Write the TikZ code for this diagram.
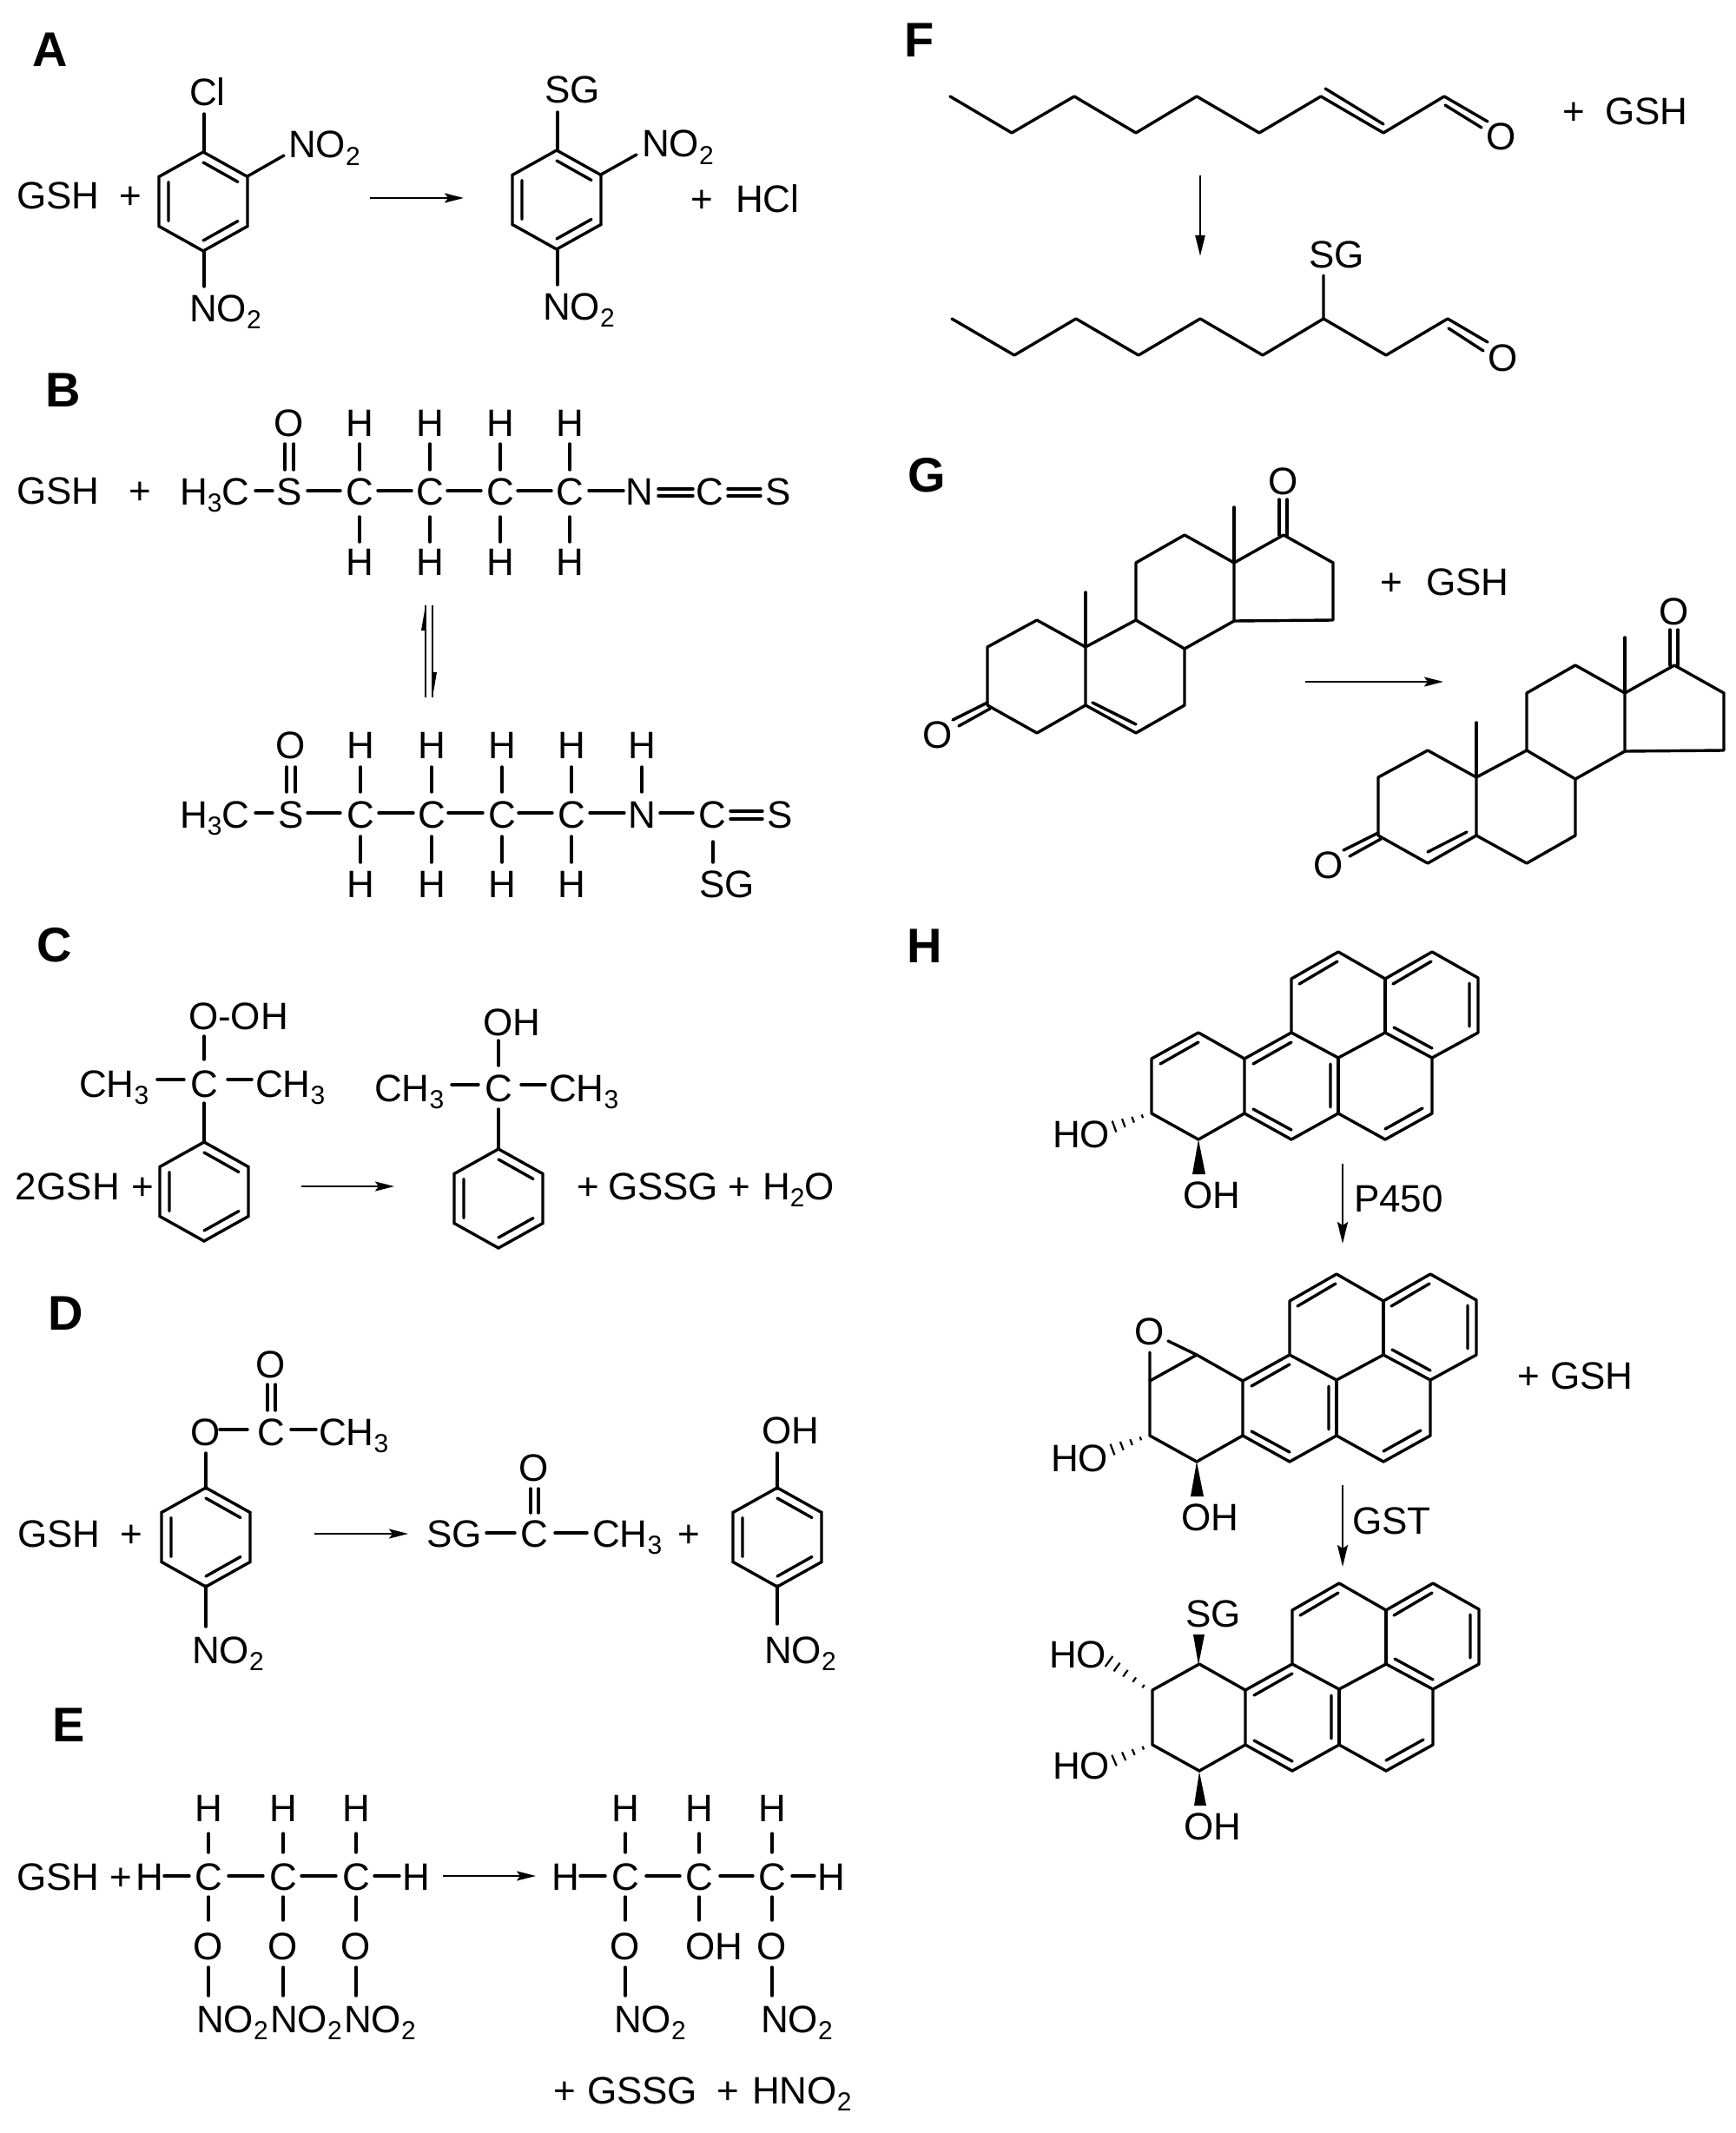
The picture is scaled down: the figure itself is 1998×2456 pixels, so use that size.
\documentclass[tikz,border=0pt]{standalone}
\usepackage{fontspec}
\setmainfont{Liberation Sans}
\usetikzlibrary{arrows.meta,calc}
\newcounter{lab}
\newcommand\dn[1]{\raisebox{-4.4pt}{\fontsize{15}{15}\selectfont #1}}
\newcommand\Lb[3]{\stepcounter{lab}\node[lbl] (lab\arabic{lab}) at (#1,#2) {#3};}
\newcommand\At[3]{\stepcounter{lab}\node[atm] (lab\arabic{lab}) at (#1,#2) {#3};}
\newcommand\PL[3]{\stepcounter{lab}\node[panel] (lab\arabic{lab}) at (#1,#2) {#3};}
\newcommand\Arr[6][rxn]{\coordinate (#2s) at (#3,#4);\coordinate (#2e) at (#5,#6);\draw[#1] (#2s) -- (#2e);}
\newcommand\Bd{\draw[bond]}
\newcommand\benz[2]{\begin{scope}[shift={(#1,#2)}]
 \draw[bond,line join=miter] (0,-57)--(51,-28.5)--(51,28.5)--(0,57)--(-51,28.5)--(-51,-28.5)--cycle;
 \draw[bond] (0,-45)--(40,-22.5) (-40,-22.5)--(-40,22.5) (40,22.5)--(0,45);
 \end{scope}}
\newcommand\hsh[5][0.1/1.0,0.4/1.8,0.7/2.6,1.0/3.4]{\coordinate (ha) at (#2,#3);\coordinate (hb) at (#4,#5);
 \foreach \t/\w in {#1}{\coordinate (hc) at ($(ha)!\t!(hb)$);
 \draw[line width=1.1pt] ($(hc)!\w pt!90:(ha)$) -- ($(hc)!\w pt!-90:(ha)$);}}
\newcommand\wdg[6]{\fill (#1,#2)--(#3,#4)--(#5,#6)--cycle;}
\newcommand\core[2]{\begin{scope}[shift={(#1,#2)}]
 \draw[bond] (1433,1219)--(1433,1282)--(1487,1312)--(1541,1282)--(1595,1312)--(1649,1282)--(1649,1218)--(1702,1189)--(1702,1126)--(1649,1096)--(1595,1127)--(1541,1096)--(1487,1127)--(1487,1189)--(1433,1219);
 \draw[bond] (1487,1189)--(1541,1218)--(1595,1189)--(1649,1218);
 \draw[bond] (1595,1189)--(1595,1127);
 \draw[bond] (1541,1218)--(1541,1282);
 \draw[bond] (1496,1133)--(1540,1107) (1604,1133)--(1648,1107) (1692,1132)--(1692,1182) (1649,1207)--(1605,1183)
   (1487,1200)--(1443,1225) (1532,1225)--(1532,1275) (1443,1277)--(1487,1301) (1595,1300)--(1638,1276);
 \end{scope}}
\newcommand\ster[2]{\begin{scope}[shift={(#1,#2)}]
 \draw[bond] (1137,812)--(1137,745)--(1194,714)--(1250,745)--(1250,812)--(1194,844)--cycle;
 \draw[bond] (1250,745)--(1308,714)--(1364,747)--(1364,812)--(1308,844)--(1250,812);
 \draw[bond] (1308,714)--(1308,648)--(1364,616)--(1421,648)--(1421,715)--(1364,747);
 \draw[bond] (1421,648)--(1478,616)--(1535,648)--(1535,714)--(1421,715);
 \draw[bond] (1250,745)--(1250,682) (1421,648)--(1421,584);
 \draw[bond] (1473,616)--(1473,575) (1482,616)--(1482,575);
 \draw[bond] (1137,809)--(1097,829) (1140,816)--(1104,836);
 \At{1478}{569}{O}
 \At{1080}{861}{O}
 \end{scope}}
\tikzset{bond/.style={line width=1.7pt,line cap=round,line join=round},
 rxn/.style={line width=1.15pt,-{Stealth[length=11pt,width=5.5pt,inset=2pt]}},
 lbl/.style={anchor=base west,inner sep=0pt,outer sep=0pt,xshift=-1.5pt,font=\fontsize{22}{22}\selectfont},
 atm/.style={anchor=base,inner sep=0pt,outer sep=0pt,font=\fontsize{22}{22}\selectfont},
 panel/.style={anchor=base west,inner sep=0pt,outer sep=0pt,font=\fontsize{28}{28}\bfseries\selectfont}}
\begin{document}
\begin{tikzpicture}[x=0.5pt,y=-0.5pt]
\useasboundingbox (0,0) rectangle (1998,2456);
\fill[white] (0,0) rectangle (1998,2456);
% panel letters
\PL{37}{77}{A}\PL{52}{468}{B}\PL{42}{1107}{C}\PL{55}{1531}{D}\PL{60}{2005}{E}
\PL{1041}{66}{F}\PL{1045}{566}{G}\PL{1044}{1108}{H}
% A
\Lb{22}{241}{GSH}\Lb{140}{241}{+}
\benz{234}{232}
\Bd (235,131)--(235,174); \Bd (285,203)--(327,179); \Bd (235,289)--(235,330);
\Lb{221}{122}{Cl}\Lb{335}{182}{NO\dn{2}}\Lb{221}{370}{NO\dn{2}}
\Arr{aA}{426}{228}{534}{228}
\benz{641}{230}
\Bd (642,129)--(642,173); \Bd (692,201)--(733,178); \Bd (642,287)--(642,328);
\Lb{630}{119}{SG}\Lb{742}{181}{NO\dn{2}}\Lb{628}{368}{NO\dn{2}}
\Lb{798}{244}{+}\Lb{850}{244}{HCl}
% B top
\Lb{22}{580}{GSH}\Lb{151}{580}{+}
\Lb{210}{581}{H\dn{3}C}\At{333}{581}{S}\At{333}{502}{O}
\Bd (294,565)--(314,565); \Bd (328,511)--(328,541) (338,511)--(338,541);
\Bd (354,565)--(392,565) (435,565)--(474,565) (515,565)--(554,565) (596,565)--(635,565) (678,565)--(718,565);
\foreach \x in {414,495,576,656}{\At{\x}{581}{C}\At{\x}{502}{H}\At{\x}{662}{H}
 \Bd (\x,511)--(\x,541) (\x,595)--(\x,624);}
\At{736}{581}{N}\At{817}{581}{C}\At{896}{581}{S}
\Bd (758,563)--(798,563) (758,571)--(798,571) (838,563)--(876,563) (838,571)--(876,571);
% equilibrium
\draw[line width=1pt] (490,803)--(490,697); \fill (490,697)--(485,726)--(490,726)--cycle;
\draw[line width=1pt] (498,697)--(498,803); \fill (498,803)--(503,774)--(498,774)--cycle;
% B bottom
\Lb{210}{953}{H\dn{3}C}\At{335}{953}{S}\At{335}{873}{O}
\Bd (294,936)--(314,936); \Bd (330,883)--(330,912) (340,883)--(340,912);
\Bd (354,936)--(392,936) (436,936)--(476,936) (516,936)--(556,936) (597,936)--(636,936) (679,936)--(719,936) (760,936)--(798,936);
\foreach \x in {415,497,578,658}{\At{\x}{953}{C}\At{\x}{873}{H}\At{\x}{1033}{H}
 \Bd (\x,883)--(\x,912) (\x,963)--(\x,993);}
\At{739}{953}{N}\At{739}{873}{H}\Bd (739,883)--(739,912);
\At{820}{953}{C}\At{898}{953}{S}
\Bd (841,934)--(878,934) (841,943)--(878,943); \Bd (821,969)--(821,993);
\Lb{808}{1033}{SG}
% C
\Lb{220}{1185}{O-OH}\At{235}{1263}{C}\Lb{94}{1263}{CH\dn{3}}\Lb{297}{1263}{CH\dn{3}}
\Bd (235,1193)--(235,1220) (181,1243)--(212,1243) (262,1243)--(290,1243) (235,1270)--(235,1315);
\benz{235}{1372}
\Lb{21}{1381}{2GSH}\Lb{154}{1381}{+}
\Arr{aC}{347}{1366}{454}{1366}
\Lb{559}{1192}{OH}\At{574}{1268}{C}\Lb{434}{1268}{CH\dn{3}}\Lb{635}{1268}{CH\dn{3}}
\Bd (574,1198)--(574,1227) (520,1249)--(551,1249) (600,1249)--(628,1249) (574,1277)--(574,1323);
\benz{574}{1380}
\Lb{667}{1381}{+}\Lb{703}{1381}{GSSG}\Lb{841}{1381}{+}\Lb{881}{1381}{H\dn{2}O}
% D
\At{237}{1664}{O}\At{312}{1664}{C}\Lb{370}{1664}{CH\dn{3}}\At{312}{1586}{O}
\Bd (308,1594)--(308,1624) (317,1594)--(317,1624) (253,1646)--(285,1646) (335,1646)--(364,1646) (237,1673)--(237,1714);
\benz{237}{1770}
\Bd (237,1826)--(237,1873);
\Lb{224}{1915}{NO\dn{2}}
\Lb{23}{1781}{GSH}\Lb{141}{1781}{+}
\Arr{aD}{362}{1766}{470}{1766}
\Lb{494}{1781}{SG}\At{615}{1781}{C}\At{615}{1705}{O}
\Bd (560,1765)--(593,1765) (611,1714)--(611,1742) (620,1714)--(620,1742) (639,1765)--(676,1765);
\Lb{685}{1781}{CH\dn{3}}\Lb{783}{1781}{+}
\benz{895}{1770}
\Lb{880}{1662}{OH}\Bd (895,1673)--(895,1714) (895,1826)--(895,1870);
\Lb{883}{1915}{NO\dn{2}}
% E
\Lb{22}{2176}{GSH}\Lb{129}{2176}{+}\At{172}{2176}{H}
\Bd (189,2160)--(218,2160) (263,2160)--(303,2160) (347,2160)--(387,2160) (431,2160)--(460,2160);
\foreach \x/\l in {240/229,326/314,410/399}{\At{\x}{2176}{C}\At{\x}{2097}{H}\At{\x}{2256}{O}\Lb{\l}{2340}{NO\dn{2}}
 \Bd (\x,2111)--(\x,2133) (\x,2184)--(\x,2211) (\x,2265)--(\x,2298);}
\At{479}{2176}{H}
\Arr{aE}{510}{2160}{617}{2160}
\At{651}{2176}{H}\At{957}{2176}{H}
\Bd (668,2160)--(697,2160) (744,2160)--(783,2160) (829,2160)--(867,2160) (912,2160)--(938,2160);
\foreach \x/\l in {720/710,889/879}{\At{\x}{2176}{C}\At{\x}{2097}{H}\At{\x}{2256}{O}\Lb{\l}{2340}{NO\dn{2}}
 \Bd (\x,2111)--(\x,2133) (\x,2184)--(\x,2211) (\x,2265)--(\x,2298);}
\At{805}{2176}{C}\At{805}{2097}{H}\Lb{792}{2256}{OH}\Bd (805,2111)--(805,2133) (805,2184)--(805,2211);
\Lb{640}{2422}{+}\Lb{679}{2422}{GSSG}\Lb{828}{2422}{+}\Lb{869}{2422}{HNO\dn{2}}
% F
\Bd (1094,111)--(1165,153)--(1237,111)--(1308,153)--(1378,111)--(1450,153)--(1521,111)--(1593,153)--(1663,111)--(1713,140);
\Bd (1526,102)--(1593,143) (1664,121)--(1706,147);
\At{1729}{173}{O}\Lb{1802}{144}{+}\Lb{1851}{144}{GSH}
\Arr[rxn,-{Stealth[length=12pt,width=5.5pt,inset=0pt]}]{aF}{1382}{202}{1382}{295}
\Bd (1096,367)--(1168,409)--(1239,367)--(1311,409)--(1382,367)--(1454,409)--(1524,367)--(1596,409)--(1667,367)--(1713,394);
\Bd (1668,378)--(1708,404) (1524,317)--(1524,367);
\Lb{1510}{308}{SG}\At{1731}{427}{O}
% G
\ster{0}{0}
\Bd (1258,809)--(1308,834);
\Lb{1592}{685}{+}\Lb{1645}{685}{GSH}
\Arr{aG}{1503}{785}{1662}{785}
\ster{450}{150}
\Bd (1644,981)--(1689,958);
% H mol 1
\core{0}{0}
\Bd (1433,1219)--(1380,1189)--(1326,1219)--(1326,1282)--(1380,1312)--(1433,1282);
\Bd (1380,1200)--(1336,1225);
\hsh{1319}{1284}{1283}{1297}
\wdg{1380}{1312}{1373}{1352}{1388}{1352}
\Lb{1215}{1321}{HO}\Lb{1365}{1391}{OH}
\Arr[rxn,-{Stealth[length=12.5pt,width=6pt,inset=2pt]}]{aP}{1546}{1340}{1546}{1432}
\Lb{1562}{1395}{P450}
% H mol 2
\core{-2}{371}
\Bd (1431,1590)--(1378,1560)--(1324,1590)--(1324,1653)--(1378,1683)--(1431,1653);
\At{1324}{1548}{O}
\Bd (1345,1544)--(1378,1560) (1324,1557)--(1324,1590);
\hsh{1317}{1655}{1281}{1669}
\wdg{1378}{1683}{1371}{1723}{1386}{1723}
\Lb{1213}{1694}{HO}\Lb{1363}{1762}{OH}
\Lb{1750}{1599}{+}\Lb{1788}{1599}{GSH}
\Arr[rxn,-{Stealth[length=12.5pt,width=6pt,inset=2pt]}]{aT}{1546}{1710}{1546}{1804}
\Lb{1560}{1766}{GST}
% H mol 3
\core{1}{727}
\Bd (1434,1946)--(1381,1916)--(1327,1946)--(1327,2009)--(1381,2039)--(1434,2009);
\Lb{1368}{1873}{SG}
\wdg{1380}{1917}{1374}{1882}{1387}{1882}
\hsh[0.08/1.0,0.32/1.6,0.56/2.3,0.79/3.0,1.0/3.7]{1320}{1944}{1277}{1913}
\Lb{1211}{1920}{HO}
\hsh{1320}{2011}{1283}{2027}
\Lb{1215}{2048}{HO}
\wdg{1381}{2040}{1375}{2079}{1389}{2079}
\Lb{1366}{2118}{OH}
\end{tikzpicture}
\end{document}
